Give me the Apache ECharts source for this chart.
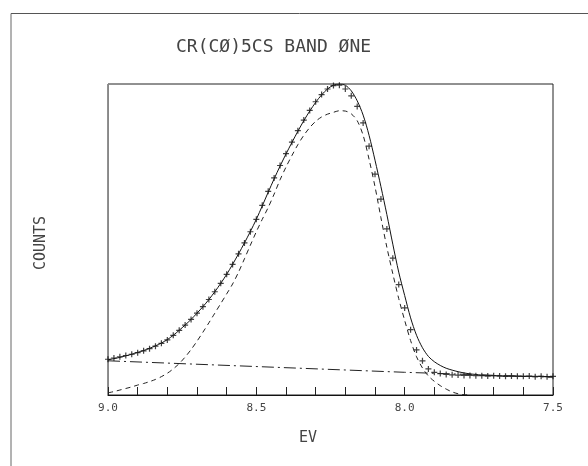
<!DOCTYPE html>
<html lang="en">
<head>
    <meta charset="UTF-8">
    <title>CR(CO)5CS Band One</title>
    <script src="https://cdn.jsdelivr.net/npm/echarts@6/dist/echarts.min.js"></script>
    <style>
        html, body { margin: 0; padding: 0; background: #fff; }
        #chart { width: 588px; height: 466px; }
    </style>
</head>
<body>
    <div id="chart"></div>
    <script>
        // energy grid (eV), read every 0.02 from the plot
        var ev = [9.00, 8.98, 8.96, 8.94, 8.92, 8.90, 8.88, 8.86, 8.84, 8.82,
                  8.80, 8.78, 8.76, 8.74, 8.72, 8.70, 8.68, 8.66, 8.64, 8.62,
                  8.60, 8.58, 8.56, 8.54, 8.52, 8.50, 8.48, 8.46, 8.44, 8.42,
                  8.40, 8.38, 8.36, 8.34, 8.32, 8.30, 8.28, 8.26, 8.24, 8.22,
                  8.20, 8.18, 8.16, 8.14, 8.12, 8.10, 8.08, 8.06, 8.04, 8.02,
                  8.00, 7.98, 7.96, 7.94, 7.92, 7.90, 7.88, 7.86, 7.84, 7.82,
                  7.80, 7.78, 7.76, 7.74, 7.72, 7.70, 7.68, 7.66, 7.64, 7.62,
                  7.60, 7.58, 7.56, 7.54, 7.52, 7.50];

        // measured counts (+ marks)
        var counts = [11.5, 11.9, 12.3, 12.7, 13.1, 13.6, 14.2, 14.9, 15.7, 16.6,
                      17.7, 19.2, 20.8, 22.5, 24.3, 26.3, 28.4, 30.7, 33.2, 35.9,
                      38.8, 42.0, 45.4, 48.9, 52.5, 56.5, 61.0, 65.5, 69.8, 73.8,
                      77.6, 81.3, 85.0, 88.4, 91.5, 94.3, 96.6, 98.4, 99.5, 99.6,
                      98.4, 96.2, 92.8, 87.5, 80.0, 71.0, 63.0, 53.4, 44.0, 35.5,
                      28.0, 21.0, 14.5, 11.0, 8.4, 7.3, 6.9, 6.6, 6.5, 6.4,
                      6.3, 6.3, 6.2, 6.2, 6.1, 6.2, 6.1, 6.0, 6.1, 6.0,
                      6.0, 6.1, 5.9, 6.0, 5.9, 6.0];

        // total fit (solid)
        var fitTotal = [11.3, 11.7, 12.1, 12.6, 13.1, 13.7, 14.3, 15.0, 15.8, 16.7,
                        17.8, 19.2, 20.8, 22.5, 24.3, 26.3, 28.4, 30.7, 33.2, 35.9,
                        38.8, 42.0, 45.4, 48.9, 52.6, 56.5, 60.8, 65.2, 69.5, 73.6,
                        77.5, 81.2, 84.8, 88.2, 91.3, 94.1, 96.5, 98.4, 99.6, 100,
                        99.6, 97.8, 94.6, 90.0, 83.5, 75.5, 67.0, 58.0, 48.5, 39.5,
                        32.0, 24.8, 19.2, 15.2, 12.4, 10.7, 9.5, 8.6, 8.0, 7.5,
                        7.1, 6.8, 6.6, 6.4, 6.3, 6.2, 6.2, 6.1, 6.1, 6.1,
                        6.0, 6.0, 6.0, 6.0, 5.9, 5.9];

        // band component (dashed)
        var component = [0.7, 1.1, 1.6, 2.1, 2.6, 3.2, 3.7, 4.3, 5.0, 5.9,
                         7.0, 8.4, 10.1, 12.2, 14.6, 17.3, 20.2, 23.2, 26.3, 29.4,
                         32.5, 35.7, 39.5, 43.8, 48.2, 52.5, 56.5, 60.3, 64.6, 69.2,
                         73.3, 77.0, 80.5, 83.5, 86.0, 88.0, 89.4, 90.3, 90.9, 91.4,
                         91.3, 90.4, 88.2, 83.5, 75.8, 67.0, 57.0, 47.5, 39.0, 31.0,
                         24.0, 17.5, 12.3, 8.7, 6.1, 4.4, 3.0, 1.9, 1.0, 0.4,
                         0.1, 0, null, null, null, null, null, null, null, null,
                         null, null, null, null, null, null];

        // background (dash-dot)
        var baselineEv = [9.0, 8.0, 7.5];
        var baselineVal = [11.0, 7.3, 5.7];

        var tickLabels = ['9.0', '8.5', '8.0', '7.5'];

        function pairs(xs, ys) {
            var out = [];
            for (let i = 0; i < xs.length; i++) {
                out.push([xs[i], ys[i]]);
            }
            return out;
        }

        var font = '"DejaVu Sans Mono", "Liberation Mono", monospace';
        var plus = 'path://M4,0H6V4H10V6H6V10H4V6H0V4H4Z';

        var myChart = echarts.init(document.getElementById('chart'));
        var option = {
            animation: false,
            backgroundColor: '#fff',
            grid: {
                left: 108, right: 35, top: 84, bottom: 71,
                show: true, borderColor: '#222', borderWidth: 1
            },
            graphic: [
                { type: 'line', shape: { x1: 11, y1: 13.5, x2: 588, y2: 13.5 }, style: { stroke: '#555', lineWidth: 1 } },
                { type: 'line', shape: { x1: 11, y1: 13.5, x2: 11, y2: 466 }, style: { stroke: '#666', lineWidth: 1 } },
                { type: 'text', left: 176, top: 38, style: { text: 'CR(CØ)5CS BAND ØNE', font: '18px ' + font, fill: '#444' } },
                { type: 'text', left: 299, top: 431, style: { text: 'EV', font: '15px ' + font, fill: '#444' } },
                { type: 'text', x: 41, y: 243, rotation: Math.PI / 2, style: { text: 'COUNTS', font: '15px ' + font, fill: '#444', textAlign: 'center', textVerticalAlign: 'middle' } }
            ],
            xAxis: {
                type: 'value',
                min: 7.5, max: 9.0, interval: 0.1,
                inverse: true,
                axisLine: { lineStyle: { color: '#111', width: 1 } },
                axisTick: { inside: true, length: 8, lineStyle: { color: '#222' } },
                splitLine: { show: false },
                axisLabel: {
                    margin: 8,
                    color: '#444',
                    fontFamily: font,
                    fontSize: 11,
                    formatter: function (v) {
                        var s = v.toFixed(1);
                        return tickLabels.indexOf(s) >= 0 ? s : '';
                    }
                }
            },
            yAxis: {
                type: 'value',
                min: 0, max: 100,
                axisLine: { show: true, lineStyle: { color: '#888' } },
                axisTick: { show: false },
                axisLabel: { show: false },
                splitLine: { show: false }
            },
            series: [
                {
                    name: 'fit',
                    type: 'line',
                    data: pairs(ev, fitTotal),
                    smooth: 0.3,
                    showSymbol: false,
                    lineStyle: { color: '#111', width: 1 }
                },
                {
                    name: 'component',
                    type: 'line',
                    data: pairs(ev, component),
                    smooth: 0.3,
                    showSymbol: false,
                    lineStyle: { color: '#222', width: 1, type: [5, 4] }
                },
                {
                    name: 'background',
                    type: 'line',
                    data: pairs(baselineEv, baselineVal),
                    showSymbol: false,
                    lineStyle: { color: '#222', width: 1, type: [12, 4, 2, 4] }
                },
                {
                    name: 'counts',
                    type: 'scatter',
                    data: pairs(ev, counts),
                    symbol: plus,
                    symbolSize: 6,
                    itemStyle: { color: '#111' }
                }
            ]
        };
        myChart.setOption(option);
    </script>
</body>
</html>
